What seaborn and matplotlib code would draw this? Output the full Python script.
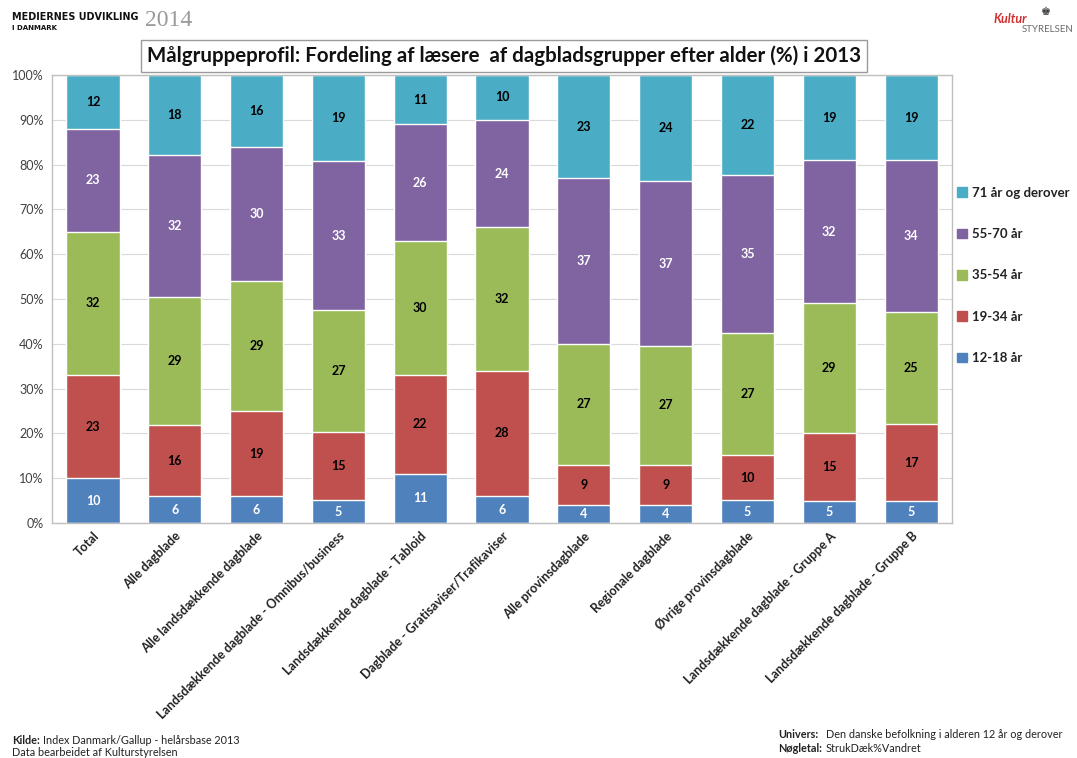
import numpy as np
import pandas as pd
import matplotlib
matplotlib.use("Agg")
import matplotlib.pyplot as plt
import matplotlib.patches as mpatches
import seaborn as sns

# ---- data -------------------------------------------------------------
categories = [
    "Total",
    "Alle dagblade",
    "Alle landsdækkende dagblade",
    "Landsdækkende dagblade - Omnibus/business",
    "Landsdækkende dagblade - Tabloid",
    "Dagblade - Gratisaviser/Trafikaviser",
    "Alle provinsdagblade",
    "Regionale dagblade",
    "Øvrige provinsdagblade",
    "Landsdækkende dagblade - Gruppe A",
    "Landsdækkende dagblade - Gruppe B",
]
age_12_18 = [10, 6, 6, 5, 11, 6, 4, 4, 5, 5, 5]
age_19_34 = [23, 16, 19, 15, 22, 28, 9, 9, 10, 15, 17]
age_35_54 = [32, 29, 29, 27, 30, 32, 27, 27, 27, 29, 25]
age_55_70 = [23, 32, 30, 33, 26, 24, 37, 37, 35, 32, 34]
age_71_plus = [12, 18, 16, 19, 11, 10, 23, 24, 22, 19, 19]

series_names = ["12-18 år", "19-34 år", "35-54 år", "55-70 år", "71 år og derover"]
series_values = [age_12_18, age_19_34, age_35_54, age_55_70, age_71_plus]
series_colors = ["#4F81BD", "#C0504D", "#9BBB59", "#8064A2", "#4BACC6"]
label_colors = ["white", "black", "black", "white", "black"]
y_tick_labels = ["0%", "10%", "20%", "30%", "40%", "50%", "60%", "70%", "80%", "90%", "100%"]

# ---- styling ----------------------------------------------------------
sns.set_theme(style="white")
plt.rcParams["font.family"] = ["Lato", "DejaVu Sans"]

W, H = 1077, 758
fig = plt.figure(figsize=(W / 100, H / 100), dpi=100)
ax = fig.add_axes([52 / W, 1 - 523 / H, 900 / W, 448 / H])

# 100 % stacked shares
vals = np.array(series_values, dtype=float)
shares = vals / vals.sum(axis=0) * 100
cum = np.cumsum(shares, axis=0)

# draw cumulative layers from top down so each lower layer covers the one above
for i in reversed(range(len(series_names))):
    df = pd.DataFrame({"kategori": categories, "andel": cum[i]})
    sns.barplot(data=df, x="kategori", y="andel", order=categories,
                color=series_colors[i], saturation=1, width=0.65,
                errorbar=None, ax=ax, zorder=2)

# value labels in the middle of each segment
for i in range(len(series_names)):
    bottoms = cum[i] - shares[i]
    for j in range(len(categories)):
        ax.text(j, bottoms[j] + shares[i][j] / 2, f"{series_values[i][j]}",
                ha="center", va="center", fontsize=9, fontweight="bold",
                color=label_colors[i], zorder=3)

ax.set_xlim(-0.5, len(categories) - 0.5)
ax.set_ylim(0, 100)
ax.set_yticks(np.arange(0, 101, 10))
ax.set_yticklabels(y_tick_labels, fontsize=9, color="#404040")
ax.set_xticks(range(len(categories)))
ax.set_xticklabels(categories, rotation=45, ha="right", rotation_mode="anchor",
                   fontsize=9, fontweight="bold", color="#222222")
ax.tick_params(axis="y", length=0, pad=6)
ax.tick_params(axis="x", length=0, pad=5)
ax.set_xlabel("")
ax.set_ylabel("")
ax.yaxis.grid(True, color="#d9d9d9", linewidth=0.8, zorder=0)
ax.set_axisbelow(True)
for sp in ax.spines.values():
    sp.set_color("#bfbfbf")
    sp.set_linewidth(1.0)

# legend, top layer first
handles = [mpatches.Patch(color=series_colors[i], label=series_names[i])
           for i in reversed(range(len(series_names)))]
leg = fig.legend(handles=handles, loc="upper left",
                 bbox_to_anchor=(945 / W, 1 - 175 / H), frameon=False,
                 handlelength=0.75, handleheight=0.75, handletextpad=0.4,
                 labelspacing=2.22, prop={"size": 9.5, "weight": "bold"})
for t in leg.get_texts():
    t.set_color("#222222")

# title in a box
fig.text(504 / W, 1 - 56 / H,
         "Målgruppeprofil: Fordeling af læsere  af dagbladsgrupper efter alder (%) i 2013",
         ha="center", va="center", fontsize=14.8, fontweight="bold", color="#111111",
         bbox=dict(boxstyle="square,pad=0.3", facecolor="white",
                   edgecolor="#9a9a9a", linewidth=1.0))

# header, top left
fig.text(12 / W, 1 - 17 / H, "MEDIERNES UDVIKLING", ha="left", va="center",
         fontsize=6.9, fontweight="bold", family=["DejaVu Sans"], color="#111111")
fig.text(12 / W, 1 - 28 / H, "I DANMARK", ha="left", va="center",
         fontsize=5, fontweight="bold", family=["DejaVu Sans"], color="#111111")
fig.text(145 / W, 1 - 21 / H, "2014", ha="left", va="center",
         fontsize=17, family=["Liberation Serif", "DejaVu Serif"], color="#9a9a9a")

# logo, top right
fig.text(1010 / W, 1 - 19 / H, "Kultur", ha="center", va="center",
         fontsize=9, fontstyle="italic", fontweight="bold", color="#d0302f")
fig.text(1046 / W, 1 - 12 / H, "♚", ha="center", va="center",
         fontsize=8, family=["DejaVu Sans"], color="#333333")
fig.text(1048 / W, 1 - 29 / H, "STYRELSEN", ha="center", va="center",
         fontsize=7, color="#6a6a6a")

# footer notes: bold key followed by plain text
def note(x_key, x_val, y, key, value):
    fig.text(x_key / W, 1 - y / H, key, ha="left", va="center",
             fontsize=7.8, fontweight="bold", color="#222222")
    fig.text(x_val / W, 1 - y / H, value, ha="left", va="center",
             fontsize=7.8, color="#222222")

note(12, 43, 740, "Kilde:", "Index Danmark/Gallup - helårsbase 2013")
fig.text(12 / W, 1 - 753 / H, "Data bearbeidet af Kulturstyrelsen",
         ha="left", va="center", fontsize=7.8, color="#222222")
note(778, 826, 735, "Univers:", "Den danske befolkning i alderen 12 år og derover")
note(778, 826, 749, "Nøgletal:", "StrukDæk%Vandret")

fig.savefig("out.png", dpi=100, facecolor="white")
